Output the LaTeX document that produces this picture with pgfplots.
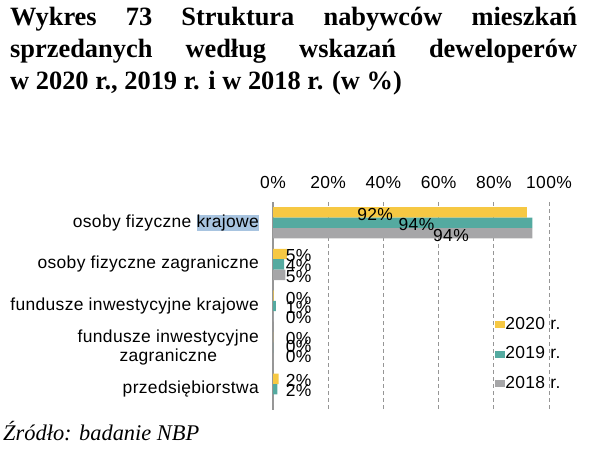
\documentclass[border=0pt]{standalone}
\usepackage{pgfplots}
\pgfplotsset{compat=1.18}
\usepackage{fontspec}
\setmainfont{Liberation Serif}
\newfontfamily\arial[LetterSpace=2]{Liberation Sans}
\definecolor{c2020}{RGB}{246,200,67}
\definecolor{c2019}{RGB}{84,170,160}
\definecolor{c2018}{RGB}{166,166,168}
\definecolor{hl}{RGB}{168,196,224}
\definecolor{gridc}{RGB}{150,150,150}
\setlength{\fboxsep}{0pt}

% bar values (in %)
\pgfplotstableread{
y   v2020 v2019 v2018
0   92    94    94
1   5     4     4.5
2   0.2   1     0.2
3   0     0     0
4   2     1.6   0
}\buyers

\begin{document}
\begin{tikzpicture}
\useasboundingbox (0bp,0bp) rectangle (589bp,-454bp);
\node[anchor=north west, inner sep=0pt, text width=567bp, align=justify,
      font=\fontsize{26.5}{32}\selectfont\bfseries] at (10bp,-7bp)
  {Wykres 73 Struktura nabywców mieszkań\linebreak
   sprzedanych według wskazań deweloperów\linebreak
   w 2020 r., 2019 r. i w 2018 r. (w \%)};
\node[anchor=base west, inner sep=0pt, font=\fontsize{22.5}{27}\selectfont\itshape]
  at (3bp,-440bp) {Źródło: badanie NBP};

\begin{axis}[
  at={(273bp,-410bp)}, anchor=south west,
  scale only axis, width=276bp, height=208bp,
  xmin=0, xmax=100, ymin=-0.5, ymax=4.5, y dir=reverse,
  axis line style={draw=none}, tick style={draw=none},
  xtick={0,20,40,60,80,100},
  xticklabels={0\%,20\%,40\%,60\%,80\%,100\%},
  xticklabel pos=upper,
  xmajorgrids, grid style={gridc, dash pattern=on 4bp off 3bp, line width=0.8bp},
  extra x ticks={0}, extra x tick labels={},
  extra x tick style={major grid style={solid, gridc, line width=1.3bp}},
  ytick={0,1,2,3,4},
  yticklabels={osoby fizyczne \colorbox{hl}{krajowe},
    osoby fizyczne zagraniczne,
    fundusze inwestycyjne krajowe,
    {fundusze inwestycyjne\\zagraniczne},
    przedsiębiorstwa},
  ticklabel style={font=\arial\fontsize{17.5}{19.5}\selectfont, text=black},
  yticklabel style={align=center, inner sep=0pt, xshift=-14bp},
  xticklabel style={inner sep=0pt, yshift=13bp},
  legend cell align=left,
  legend style={at={(0.805,0.45)}, anchor=north west, draw=none, fill=none,
    inner sep=0pt, row sep=14bp,
    nodes={inner sep=0pt, text height=12.5bp, text depth=3bp, font=\arial\fontsize{17.5}{19}\selectfont},
    /tikz/every even column/.append style={column sep=3bp}},
  legend image code/.code={\fill[#1, draw=none] (0bp,-4bp) rectangle (10bp,3bp);},
  bar width=0.25,
]
\addplot[xbar, bar shift=-0.25, fill=c2020, draw=none] table[x=v2020, y=y] {\buyers};
\addplot[xbar, bar shift=0, fill=c2019, draw=none] table[x=v2019, y=y] {\buyers};
\addplot[xbar, bar shift=0.25, fill=c2018, draw=none] table[x=v2018, y=y] {\buyers};
\legend{2020 r.,2019 r.,2018 r.}

% data labels
\addplot[draw=none, forget plot, nodes near coords, point meta=explicit symbolic,
  nodes near coords style={anchor=center, inner sep=0pt, font=\arial\fontsize{17.5}{19}\selectfont}]
  coordinates {(37,-0.19) [92\%] (52,0.04) [94\%] (64.5,0.3) [94\%]};
\addplot[draw=none, forget plot, nodes near coords, point meta=explicit symbolic,
  nodes near coords style={anchor=west, inner sep=0pt, font=\arial\fontsize{17.5}{19}\selectfont}]
  coordinates {
    (4.6,0.79) [5\%] (4.6,1.03) [4\%] (4.6,1.29) [5\%]
    (4.6,1.82) [0\%] (4.6,2.04) [1\%] (4.6,2.28) [0\%]
    (4.6,2.78) [0\%] (4.6,2.98) [0\%] (4.6,3.22) [0\%]
    (4.6,3.78) [2\%] (4.6,4.04) [2\%]};
\end{axis}
\end{tikzpicture}
\end{document}
